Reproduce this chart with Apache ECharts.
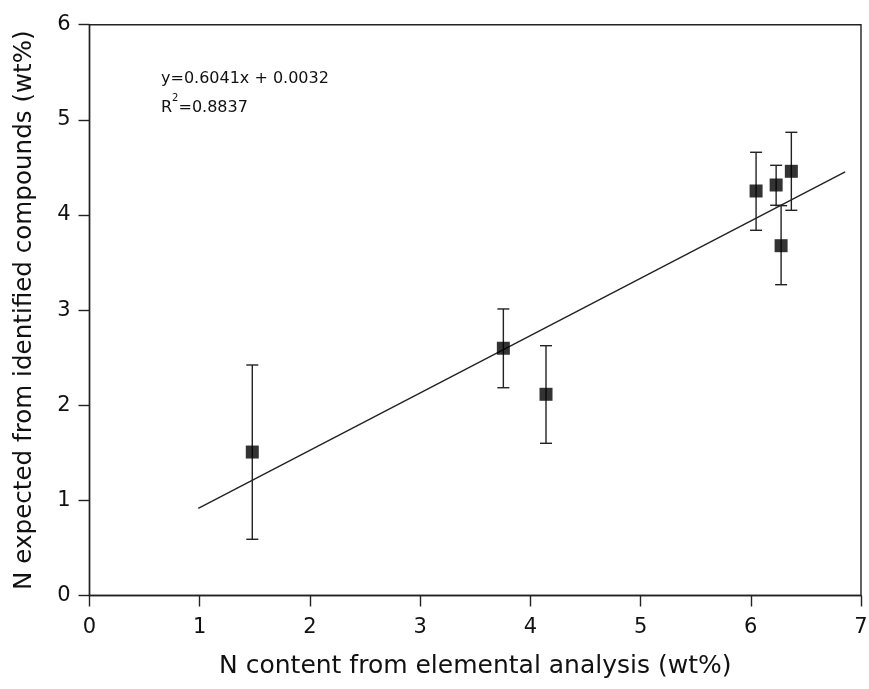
<!DOCTYPE html>
<html><head><meta charset="utf-8">
<script src="https://cdn.jsdelivr.net/npm/echarts@6/dist/echarts.min.js"></script>
<style>html,body{margin:0;padding:0;background:#fff}#c{width:869px;height:689px}</style>
</head><body><div id="c"></div>
<script>
const xValues = [1.477, 3.755, 4.142, 6.048, 6.230, 6.368, 6.275];
const yValues = [1.508, 2.599, 2.115, 4.252, 4.315, 4.459, 3.677];
const yErrLow = [0.591, 2.184, 1.600, 3.839, 4.102, 4.049, 3.267];
const yErrHigh = [2.423, 3.012, 2.626, 4.659, 4.522, 4.869, 4.098];
const fitX = [0.987, 6.856];
const fitY = [0.917, 4.452];
const xTicks = [0, 1, 2, 3, 4, 5, 6, 7];
const yTicks = [0, 1, 2, 3, 4, 5, 6];
const eqText = 'y=0.6041x + 0.0032';
const r2Value = '0.8837';

const FONT = 'DejaVu Sans';
const chart = echarts.init(document.getElementById('c'), null, {renderer: 'canvas'});
const points = xValues.map((x, i) => [x, yValues[i]]);
const errs = xValues.map((x, i) => [x, yErrLow[i], yErrHigh[i]]);
const fit = fitX.map((x, i) => [x, fitY[i]]);

const axisCommon = {
  axisLine: {show: true, onZero: false, lineStyle: {color: '#222', width: 1.4}},
  axisTick: {show: true, inside: false, length: 11, lineStyle: {color: '#222', width: 1.4}},
  splitLine: {show: false},
  axisLabel: {color: '#111', fontFamily: FONT, fontSize: 21},
  nameLocation: 'middle',
  nameTextStyle: {color: '#111', fontFamily: FONT, fontSize: 25}
};

chart.setOption({
  animation: false,
  backgroundColor: '#fff',
  grid: {left: 89.5, right: 8, top: 24.7, bottom: 93.5, containLabel: false, outerBoundsMode: 'none',
         show: true, borderColor: '#222', borderWidth: 1.4},
  xAxis: Object.assign({}, axisCommon, {
    type: 'value', min: xTicks[0], max: xTicks[xTicks.length - 1], interval: 1,
    axisLabel: Object.assign({}, axisCommon.axisLabel, {margin: 22}),
    name: 'N content from elemental analysis (wt%)', nameGap: 58
  }),
  yAxis: Object.assign({}, axisCommon, {
    type: 'value', min: yTicks[0], max: yTicks[yTicks.length - 1], interval: 1,
    axisLabel: Object.assign({}, axisCommon.axisLabel, {margin: 19}),
    name: 'N expected from identified compounds (wt%)', nameGap: 52,
    nameTextStyle: Object.assign({}, axisCommon.nameTextStyle, {fontSize: 24.6})
  }),
  graphic: [{
    type: 'text', left: 161, top: 64,
    style: {
      text: eqText + '\n{t|R}{s|2}{t|=' + r2Value + '}',
      fontFamily: FONT, fontSize: 16, fill: '#111', lineHeight: 29,
      rich: {
        t: {fontFamily: FONT, fontSize: 16, fill: '#111'},
        s: {fontFamily: FONT, fontSize: 10, fill: '#111', verticalAlign: 'top', padding: [0, 0, 10, 0]}
      }
    }
  }],
  series: [
    {
      type: 'line', data: fit, showSymbol: false, symbol: 'none',
      lineStyle: {color: '#222', width: 1.4}, z: 2
    },
    {
      type: 'custom', data: errs, z: 3,
      renderItem: function (params, api) {
        const x = api.value(0);
        const lo = api.coord([x, api.value(1)]);
        const hi = api.coord([x, api.value(2)]);
        const hw = 6;
        const st = {stroke: '#222', lineWidth: 1.4};
        return {type: 'group', children: [
          {type: 'line', shape: {x1: lo[0], y1: lo[1], x2: hi[0], y2: hi[1]}, style: st},
          {type: 'line', shape: {x1: lo[0] - hw, y1: lo[1], x2: lo[0] + hw, y2: lo[1]}, style: st},
          {type: 'line', shape: {x1: hi[0] - hw, y1: hi[1], x2: hi[0] + hw, y2: hi[1]}, style: st}
        ]};
      }
    },
    {
      type: 'scatter', data: points, symbol: 'rect', symbolSize: 13,
      itemStyle: {color: '#000'}, z: 4
    }
  ]
});
</script></body></html>
